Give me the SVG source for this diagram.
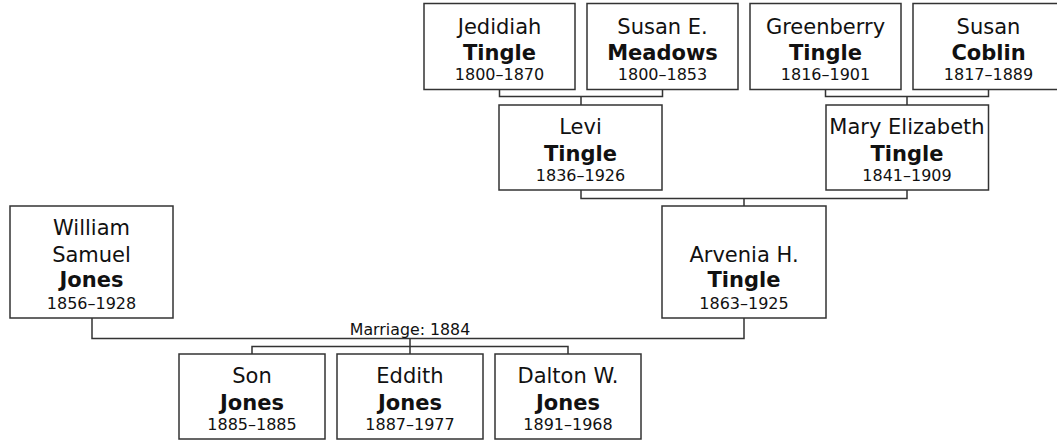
<svg xmlns="http://www.w3.org/2000/svg" width="1057" height="440" viewBox="0 0 1057 440">
<style>
.box{fill:#fff;stroke:#333;stroke-width:1.5}
.ln{fill:none;stroke:#333;stroke-width:1.5}
text{font-family:"DejaVu Sans",Verdana,sans-serif;fill:#111;text-anchor:middle}
.n{font-size:21px}
.s{font-size:21px;font-weight:bold}
.d{font-size:16px}
.m{font-size:15.8px}
</style>
<rect width="1057" height="440" fill="#fff"/>
<g id="connectors">
<path class="ln" d="M499.5,89.5V96.5H662.5V89.5M581,96.5V105"/>
<path class="ln" d="M825.5,89.5V96.5H988.5V89.5M907,96.5V105"/>
<path class="ln" d="M581,190V198.5H907V190M744,198.5V206"/>
<path class="ln" d="M92,318V338.5H744V318"/>
<path class="ln" d="M410,338.5V354M252,354V346.5H568V354"/>
<text class="m" x="410" y="335">Marriage: 1884</text>
</g>
<g id="jedidiah">
<rect class="box" x="424" y="3.5" width="151" height="86"/>
<text class="n" x="499.5" y="33.5">Jedidiah</text>
<text class="s" x="499.5" y="59.5">Tingle</text>
<text class="d" x="499.5" y="79.5">1800–1870</text>
</g>
<g id="susan-meadows">
<rect class="box" x="587" y="3.5" width="151" height="86"/>
<text class="n" x="662.5" y="33.5">Susan E.</text>
<text class="s" x="662.5" y="59.5">Meadows</text>
<text class="d" x="662.5" y="79.5">1800–1853</text>
</g>
<g id="greenberry">
<rect class="box" x="750" y="3.5" width="151" height="86"/>
<text class="n" x="825.5" y="33.5">Greenberry</text>
<text class="s" x="825.5" y="59.5">Tingle</text>
<text class="d" x="825.5" y="79.5">1816–1901</text>
</g>
<g id="susan-coblin">
<rect class="box" x="913" y="3.5" width="151" height="86"/>
<text class="n" x="988.5" y="33.5">Susan</text>
<text class="s" x="988.5" y="59.5">Coblin</text>
<text class="d" x="988.5" y="79.5">1817–1889</text>
</g>
<g id="levi">
<rect class="box" x="499" y="105" width="163" height="85"/>
<text class="n" x="580.5" y="134">Levi</text>
<text class="s" x="580.5" y="160.5">Tingle</text>
<text class="d" x="580.5" y="180.5">1836–1926</text>
</g>
<g id="mary">
<rect class="box" x="826" y="105" width="162.5" height="85"/>
<text class="n" x="907" y="134">Mary Elizabeth</text>
<text class="s" x="907" y="160.5">Tingle</text>
<text class="d" x="907" y="180.5">1841–1909</text>
</g>
<g id="william">
<rect class="box" x="10" y="206" width="163" height="112"/>
<text class="n" x="91.5" y="235">William</text>
<text class="n" x="91.5" y="261.5">Samuel</text>
<text class="s" x="91.5" y="287">Jones</text>
<text class="d" x="91.5" y="308.5">1856–1928</text>
</g>
<g id="arvenia">
<rect class="box" x="662" y="206" width="164" height="112"/>
<text class="n" x="744" y="261.5">Arvenia H.</text>
<text class="s" x="744" y="287">Tingle</text>
<text class="d" x="744" y="308.5">1863–1925</text>
</g>
<g id="son">
<rect class="box" x="179" y="354" width="146" height="85"/>
<text class="n" x="252" y="383">Son</text>
<text class="s" x="252" y="409.5">Jones</text>
<text class="d" x="252" y="430">1885–1885</text>
</g>
<g id="eddith">
<rect class="box" x="337" y="354" width="146" height="85"/>
<text class="n" x="410" y="383">Eddith</text>
<text class="s" x="410" y="409.5">Jones</text>
<text class="d" x="410" y="430">1887–1977</text>
</g>
<g id="dalton">
<rect class="box" x="495" y="354" width="146" height="85"/>
<text class="n" x="568" y="383">Dalton W.</text>
<text class="s" x="568" y="409.5">Jones</text>
<text class="d" x="568" y="430">1891–1968</text>
</g>
</svg>
